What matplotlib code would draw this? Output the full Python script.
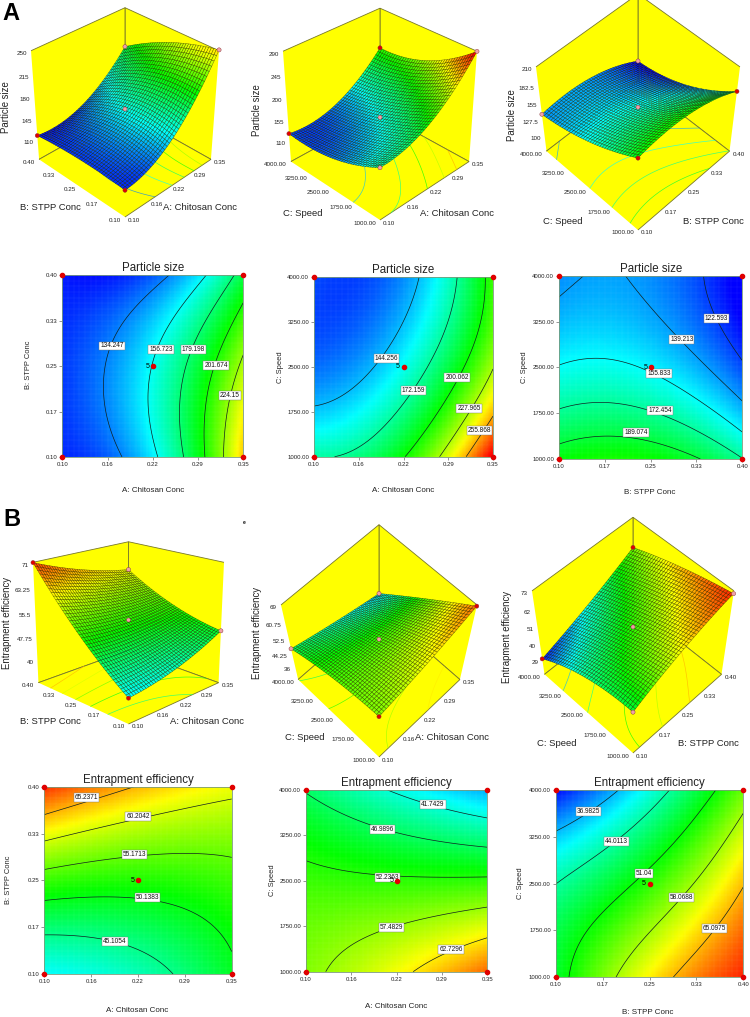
import numpy as np
import matplotlib
matplotlib.use('Agg')
import matplotlib.pyplot as plt
from matplotlib.colors import LinearSegmentedColormap, Normalize
from mpl_toolkits.mplot3d import proj3d

plt.rcParams['font.family'] = ['Liberation Sans', 'DejaVu Sans']

W, H = 750, 1017

# factor ranges and tick labels
A_range = (0.10, 0.35)
B_range = (0.10, 0.40)
C_range = (1000.0, 4000.0)
A_ticks = ['0.10', '0.16', '0.22', '0.29', '0.35']
B_ticks = ['0.10', '0.17', '0.25', '0.33', '0.40']
C_ticks = ['1000.00', '1750.00', '2500.00', '3250.00', '4000.00']
A_name = 'A: Chitosan Conc'
B_name = 'B: STPP Conc'
C_name = 'C: Speed'

# responses at the tick crossings, rows from low y to high y
size_AB = [[119, 128, 155, 194, 250],
           [122, 133.5, 158, 193, 245],
           [122, 137, 157, 188, 229],
           [118, 131, 147, 175, 207],
           [116, 116, 127, 148, 190]]
size_AC = [[172, 177, 198, 237, 290],
           [147, 154, 175, 213, 250],
           [132, 138, 156, 191, 225],
           [125, 128, 141, 175, 213],
           [125, 124, 136, 165, 208]]
size_BC = [[197, 201, 199, 190, 172],
           [175, 180, 175, 165, 147],
           [155.5, 158, 153, 142.5, 124],
           [144, 146, 141, 128, 112],
           [136, 141, 137, 125, 107]]
ee_AB = [[40, 41, 43, 46, 49.5],
         [46.4, 46.5, 47.3, 48.7, 51],
         [53.4, 52.6, 52.1, 52.8, 53.5],
         [61.3, 59.3, 57.9, 57.2, 57.2],
         [71, 68, 65, 63, 61.4]]
ee_AC = [[56.5, 59, 61.3, 64.8, 68.5],
         [55.3, 56.7, 57.6, 59.4, 60.7],
         [53.3, 52.9, 52.5, 52.4, 52.8],
         [50.6, 49, 47.6, 45.8, 45.3],
         [46.6, 44, 41, 39, 36.5]]
ee_BC = [[47.5, 57, 61.8, 66.2, 72],
         [49.2, 53.9, 59.3, 62.9, 68.5],
         [43.4, 47.7, 51.6, 59.3, 64.9],
         [36.8, 42, 46.9, 52.6, 60.4],
         [30, 35, 41.5, 48.4, 55.5]]

size_levels_AB = [134.247, 156.723, 179.198, 201.674, 224.15]
size_levels_AC = [144.256, 172.159, 200.062, 227.965, 255.868]
size_levels_BC = [122.593, 139.213, 155.833, 172.454, 189.074]
ee_levels_AB = [45.1054, 50.1383, 55.1713, 60.2042, 65.2371]
ee_levels_AC = [41.7429, 46.9896, 52.2363, 57.4829, 62.7296]
ee_levels_BC = [36.9825, 44.0113, 51.04, 58.0688, 65.0975]

size_zticks_AB = ['110', '145', '180', '215', '250']
size_zticks_AC = ['110', '155', '200', '245', '290']
size_zticks_BC = ['100', '127.5', '155', '182.5', '210']
ee_zticks_AB = ['40', '47.75', '55.5', '63.25', '71']
ee_zticks_AC = ['36', '44.25', '52.5', '60.75', '69']
ee_zticks_BC = ['29', '40', '51', '62', '73']

size_centers = [160, 160, 148]
ee_centers = [53, 52, 51]

RED = '#e00000'
PINK = '#f0a0a8'

# front, left, right, back, centre
dot_colors = [[RED, RED, PINK, PINK, PINK],
              [PINK, RED, PINK, RED, PINK],
              [RED, PINK, RED, PINK, PINK],
              [RED, RED, PINK, PINK, PINK],
              [RED, PINK, RED, PINK, PINK],
              [PINK, RED, PINK, RED, PINK]]

cmap = LinearSegmentedColormap.from_list('de', ['#0000ff', '#00ffff', '#00ff00', '#ffff00', '#ff0000'])
size_norm = Normalize(112, 285)
ee_norm = Normalize(29, 73)

# label places as fractions of each plot
panels = [
    dict(title='Particle size', z=size_AB, levels=size_levels_AB, zticks=size_zticks_AB, center=size_centers[0],
         norm=size_norm, xr=A_range, yr=B_range, xt=A_ticks, yt=B_ticks, xn=A_name, yn=B_name,
         labels=[(.275, .61), (.545, .59), (.725, .59), (.85, .505), (.925, .34)],
         rect=(62.3, 243.3, 275, 457), xl=(153, 491), yl=(28, 365),
         elev=34, zasp=1.03, foc=.7, fit=(31, 219, 217),
         n3=((50, 208), (200, 208), (6, 107))),
    dict(title='Particle size', z=size_AC, levels=size_levels_AC, zticks=size_zticks_AC, center=size_centers[1],
         norm=size_norm, xr=A_range, yr=C_range, xt=A_ticks, yt=C_ticks, xn=A_name, yn=C_name,
         labels=[(.405, .545), (.557, .368), (.8, .44), (.866, .27), (.925, .145)],
         rect=(314, 493, 277.3, 456.7), xl=(403, 491), yl=(280, 367),
         elev=33, zasp=1.0, foc=.7, fit=(283, 477, 220),
         n3=((303, 213), (457, 213), (257, 110))),
    dict(title='Particle size', z=size_BC, levels=size_levels_BC, zticks=size_zticks_BC, center=size_centers[2],
         norm=size_norm, xr=B_range, yr=C_range, xt=B_ticks, yt=C_ticks, xn=B_name, yn=C_name,
         labels=[(.86, .767), (.67, .653), (.545, .467), (.55, .267), (.42, .142)],
         rect=(559, 742.3, 275.7, 459), xl=(650, 493), yl=(524, 367),
         elev=52, zasp=1.0, foc=.8, fit=(536, 740, 230),
         n3=((563, 222), (713, 221), (512, 115))),
    dict(title='Entrapment efficiency', z=ee_AB, levels=ee_levels_AB, zticks=ee_zticks_AB, center=ee_centers[0],
         norm=ee_norm, xr=A_range, yr=B_range, xt=A_ticks, yt=B_ticks, xn=A_name, yn=B_name,
         labels=[(.377, .174), (.55, .407), (.48, .64), (.5, .843), (.225, .942)],
         rect=(44.3, 231.7, 786.7, 974), xl=(137, 1010), yl=(9, 880),
         elev=19, zasp=.97, foc=.6, fit=(33, 224, 724),
         n3=((50, 722), (207, 722), (7, 623))),
    dict(title='Entrapment efficiency', z=ee_AC, levels=ee_levels_AC, zticks=ee_zticks_AC, center=ee_centers[1],
         norm=ee_norm, xr=A_range, yr=C_range, xt=A_ticks, yt=C_ticks, xn=A_name, yn=C_name,
         labels=[(.70, .92), (.42, .783), (.45, .52), (.47, .244), (.80, .12)],
         rect=(306, 487.3, 790, 971.7), xl=(396, 1007), yl=(272, 880),
         elev=63, zasp=1.3, foc=.6, fit=(281, 477, 757),
         n3=((305, 738), (452, 738), (257, 633))),
    dict(title='Entrapment efficiency', z=ee_BC, levels=ee_levels_BC, zticks=ee_zticks_BC, center=ee_centers[2],
         norm=ee_norm, xr=B_range, yr=C_range, xt=B_ticks, yt=C_ticks, xn=B_name, yn=C_name,
         labels=[(.175, .886), (.325, .726), (.47, .555), (.67, .425), (.845, .258)],
         rect=(555.7, 743.3, 790, 977.3), xl=(648, 1013), yl=(521, 883),
         elev=54, zasp=1.06, foc=.7, fit=(532, 734, 753),
         n3=((557, 743), (708, 743), (507, 637))),
]

fig = plt.figure(figsize=(W / 100, H / 100), dpi=100)
fig.patch.set_facecolor('white')


def put_text(px, py, s, **kw):
    kw.setdefault('ha', 'center')
    kw.setdefault('va', 'center')
    fig.text(px / W, 1 - py / H, s, **kw)


def fine_grid(table, n=41):
    # least squares through the read table, so the curves stay as smooth as in the original
    f = np.linspace(0, 1, 5)
    gx, gy = np.meshgrid(f, f)
    vand = np.polynomial.polynomial.polyvander2d(gx.ravel(), gy.ravel(), [2, 2])
    coef = np.linalg.lstsq(vand, np.array(table, float).ravel(), rcond=None)[0].reshape(3, 3)
    u = np.linspace(0, 1, n)
    ux, uy = np.meshgrid(u, u)
    return ux, uy, np.polynomial.polynomial.polyval2d(ux, uy, coef)


def project(ax, pts):
    pts = np.array(pts, float)
    xs, ys, _ = proj3d.proj_transform(pts[:, 0], pts[:, 1], pts[:, 2], ax.get_proj())
    return ax.transData.transform(np.column_stack([xs, ys]))


def fit_box(ax, p, zlo, zhi):
    # scale and shift the 3D axes so that its walls land where the reference has them
    x0, x1 = p['xr']
    y0, y1 = p['yr']
    pts = [(x0, y1, zhi), (x1, y0, zhi), (x0, y0, zlo)]
    left, right, bottom = p['fit']
    fig.canvas.draw()
    d = project(ax, pts)
    s = (right - left) / (d[1, 0] - d[0, 0])
    b = ax.get_position(original=True)
    ax.set_position([b.x0, b.y0, b.width * s, b.height * s])
    fig.canvas.draw()
    d = project(ax, pts)
    b = ax.get_position(original=True)
    dx = (left - d[0, 0]) / W
    dy = ((H - bottom) - d[2, 1]) / H
    ax.set_position([b.x0 + dx, b.y0 + dy, b.width, b.height])
    fig.canvas.draw()


def draw_surface(i, p):
    x0, x1 = p['xr']
    y0, y1 = p['yr']
    zt = [float(t) for t in p['zticks']]
    step = zt[1] - zt[0]
    zlo, zhi = zt[0] - step, zt[-1]

    ax = fig.add_axes([.1, .1, .4, .4 * W / H], projection='3d')
    ax.patch.set_alpha(0)
    ax.set_proj_type('persp', focal_length=p['foc'])
    ax.view_init(elev=p['elev'], azim=-135)
    ax.set_box_aspect((1, 1, p['zasp']))
    ax.set_xlim(x0, x1, view_margin=0)
    ax.set_ylim(y0, y1, view_margin=0)
    ax.set_zlim(zlo, zhi, view_margin=0)
    ax.set_xticks([])
    ax.set_yticks([])
    ax.set_zticks([])
    ax.grid(False)
    ax.computed_zorder = False
    for axis in (ax.xaxis, ax.yaxis, ax.zaxis):
        axis.set_pane_color((1, 1, 0, 1))
        axis.pane.set_edgecolor('#77772a')
        axis.pane.set_linewidth(.6)
        axis.line.set_color((0, 0, 0, 0))
    fit_box(ax, p, zlo, zhi)

    ux, uy, uz = fine_grid(p['z'])
    X = x0 + ux * (x1 - x0)
    Y = y0 + uy * (y1 - y0)
    ax.contour(X, Y, uz, levels=p['levels'], zdir='z', offset=zlo, cmap=cmap, norm=p['norm'],
               linewidths=.5, alpha=.75, zorder=1)
    ax.plot_surface(X, Y, uz, facecolors=cmap(p['norm'](uz)), rstride=1, cstride=1, shade=False,
                    edgecolor=(0, 0, 0, .6), linewidth=.3, zorder=2)

    dots_x = [x0, x0, x1, x1, (x0 + x1) / 2]
    dots_y = [y0, y1, y0, y1, (y0 + y1) / 2]
    dots_z = [uz[0, 0], uz[-1, 0], uz[0, -1], uz[-1, -1], p['center']]
    ax.scatter(dots_x, dots_y, dots_z, c=dot_colors[i], s=9, depthshade=False,
               edgecolors='#803030', linewidths=.3, zorder=3)

    # tick labels go beside the projected edge points
    ft = 4.5
    dx, dy = (x1 - x0) / 4, (y1 - y0) / 4
    tcol = '#222222'
    pts = project(ax, [(x0 + k * dx, y0, zlo) for k in range(5)])
    for (px, py), lab in zip(pts, p['xt']):
        put_text(px + 3, H - py + 3, lab, fontsize=ft, ha='left', color=tcol)
    pts = project(ax, [(x0, y0 + k * dy, zlo) for k in range(5)])
    for (px, py), lab in zip(pts, p['yt']):
        put_text(px - 4, H - py + 3, lab, fontsize=ft, ha='right', color=tcol)
    pts = project(ax, [(x0, y1, z) for z in zt])
    for (px, py), lab in zip(pts, p['zticks']):
        put_text(px - 4, H - py + 3, lab, fontsize=ft, ha='right', color=tcol)

    (ylx, yly), (xlx, xly), (zlx, zly) = p['n3']
    put_text(ylx, yly, p['yn'], fontsize=6.8, color='#222222')
    put_text(xlx, xly, p['xn'], fontsize=6.8, color='#222222')
    put_text(zlx, zly, p['title'], fontsize=6.9, rotation=90, color='#222222')


def draw_contour(p):
    x0, x1 = p['xr']
    y0, y1 = p['yr']
    l, r, top, bot = p['rect']
    ax = fig.add_axes([l / W, 1 - bot / H, (r - l) / W, (bot - top) / H])
    ux, uy, uz = fine_grid(p['z'], n=61)
    X = x0 + ux * (x1 - x0)
    Y = y0 + uy * (y1 - y0)
    ax.pcolormesh(X, Y, uz, cmap=cmap, norm=p['norm'], shading='gouraud')
    # faint pale mesh of the original raster
    for v in np.linspace(x0, x1, 33):
        ax.axvline(v, color='white', lw=.3, alpha=.12)
    for v in np.linspace(y0, y1, 33):
        ax.axhline(v, color='white', lw=.3, alpha=.12)
    ax.contour(X, Y, uz, levels=p['levels'], colors='#102020', linewidths=.5)
    ax.set_xlim(x0, x1)
    ax.set_ylim(y0, y1)
    ax.set_xticks(np.linspace(x0, x1, 5))
    ax.set_yticks(np.linspace(y0, y1, 5))
    ax.set_xticklabels(p['xt'])
    ax.set_yticklabels(p['yt'])
    ax.tick_params(labelsize=4.3, length=2, width=.4, pad=1.5, color='#444444', labelcolor='#222222')
    for s in ax.spines.values():
        s.set_color('#7a9a7a')
        s.set_linewidth(.6)

    ax.set_title(p['title'], fontsize=8.3, pad=3, color='#222222')
    for (fx, fy), lev in zip(p['labels'], p['levels']):
        ax.text(x0 + fx * (x1 - x0), y0 + fy * (y1 - y0), f'{lev:g}', fontsize=4.7, ha='center', va='center',
                color='#111111', bbox=dict(fc='white', ec='#777777', lw=.3, pad=.7), zorder=5)
    ax.scatter([x0, x0, x1, x1, (x0 + x1) / 2], [y0, y1, y0, y1, (y0 + y1) / 2], s=9, c='#e00000',
               clip_on=False, zorder=6)
    ax.annotate('5', ((x0 + x1) / 2, (y0 + y1) / 2), xytext=(-2.5, 0), textcoords='offset points',
                fontsize=5, ha='right', va='center', zorder=6)
    put_text(p['xl'][0], p['xl'][1], p['xn'], fontsize=5.8, color='#222222')
    put_text(p['yl'][0], p['yl'][1], p['yn'], fontsize=5.4, rotation=90, color='#222222')


for i, p in enumerate(panels):
    draw_surface(i, p)
    draw_contour(p)

put_text(11, 13, 'A', fontsize=17, fontweight='bold')
put_text(12, 519, 'B', fontsize=17, fontweight='bold')
put_text(244, 522.5, 'e', fontsize=3.5, fontweight='bold')

fig.savefig('out.png', dpi=100)
